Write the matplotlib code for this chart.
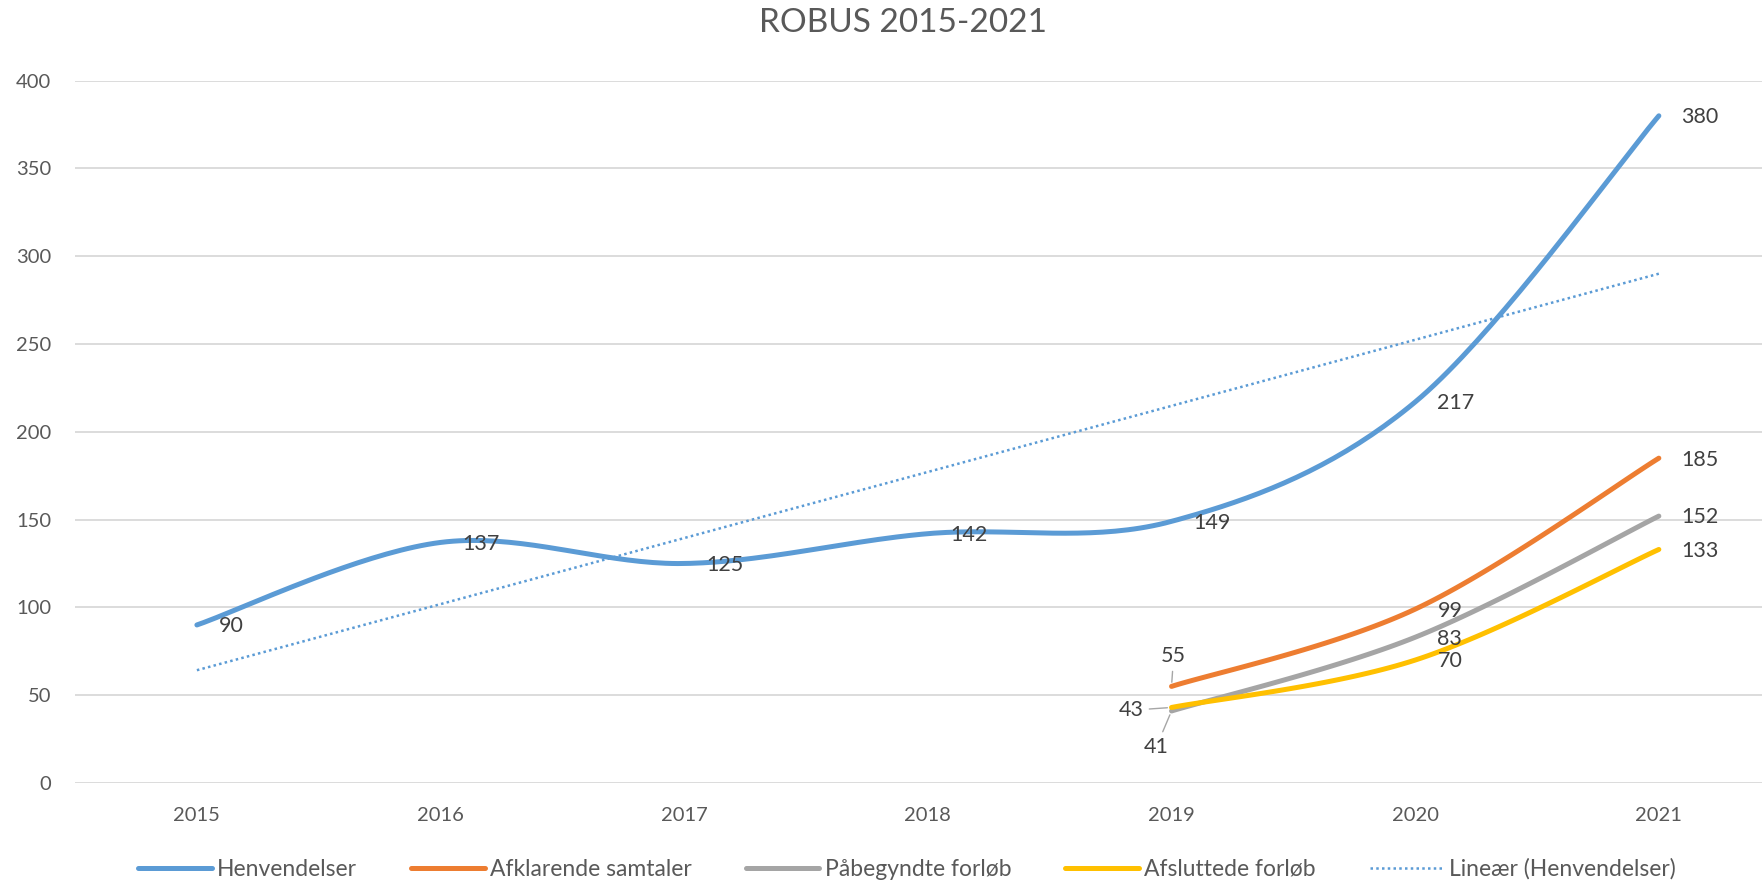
import numpy as np
import matplotlib
matplotlib.use('Agg')
import matplotlib.pyplot as plt

''' --- ROBUS 2015-2021 --- '''
years = ['2015', '2016', '2017', '2018', '2019', '2020', '2021']
henvendelser = [90, 137, 125, 142, 149, 217, 380]
# the three detail series only start in 2019
afklarende = [55, 99, 185]
paabegyndte = [41, 83, 152]
afsluttede = [43, 70, 133]
yticks = [0, 50, 100, 150, 200, 250, 300, 350, 400]

blue = '#5B9BD5'
orange = '#ED7D31'
grey = '#A5A5A5'
yellow = '#FFC000'
txt = '#595959'

plt.rcParams['font.family'] = ['Lato', 'DejaVu Sans']


def smooth(x, y, n=40):
    # excel style smoothed line: bezier segments, control points from neighbours
    x = np.asarray(x, float)
    y = np.asarray(y, float)
    px = np.concatenate([[x[0]], x, [x[-1]]])
    py = np.concatenate([[y[0]], y, [y[-1]]])
    xs, ys = [], []
    t = np.linspace(0, 1, n)
    for i in range(len(x) - 1):
        p0 = np.array([px[i+1], py[i+1]])
        p3 = np.array([px[i+2], py[i+2]])
        p1 = p0 + (p3 - np.array([px[i], py[i]])) / 6
        p2 = p3 - (np.array([px[i+3], py[i+3]]) - p0) / 6
        b = ((1-t)**3)[:, None]*p0 + (3*(1-t)**2*t)[:, None]*p1 \
            + (3*(1-t)*t**2)[:, None]*p2 + (t**3)[:, None]*p3
        xs.append(b[:, 0])
        ys.append(b[:, 1])
    return np.concatenate(xs), np.concatenate(ys)


fig = plt.figure(figsize=(17.62, 8.83), dpi=100)
ax = fig.add_axes([0.0426, 0.1133, 0.968, 0.7953])

x_all = np.arange(len(years))
x_late = x_all[4:]

series = [
    ('Henvendelser', x_all, henvendelser, blue),
    ('Afklarende samtaler', x_late, afklarende, orange),
    ('Påbegyndte forløb', x_late, paabegyndte, grey),
    ('Afsluttede forløb', x_late, afsluttede, yellow),
]
for name, xx, yy, c in series:
    sx, sy = smooth(xx, yy)
    ax.plot(sx, sy, color=c, lw=3.6, solid_capstyle='round', label=name, zorder=3)

# linear trend of Henvendelser
k, m = np.polyfit(x_all, henvendelser, 1)
ax.plot(x_all, k*x_all + m, color=blue, lw=1.8, ls=(0, (1, 1.3)),
        label='Lineær (Henvendelser)', zorder=2)

# data labels, right of the point
fs_lab = 15.5
lab_kw = dict(textcoords='offset points', ha='left', va='center', fontsize=fs_lab, color='#404040')
for xi, v in zip(x_all, henvendelser):
    ax.annotate(str(v), (xi, v), xytext=(16, -1), **lab_kw)
for yy in (afklarende, paabegyndte, afsluttede):
    for xi, v in zip(x_late[1:], yy[1:]):
        ax.annotate(str(v), (xi, v), xytext=(16, -1), **lab_kw)

# 2019 labels moved off the crowded start, with leader lines
lead = dict(arrowstyle='-', color='#A6A6A6', lw=1, shrinkA=2, shrinkB=3)
ax.annotate(str(afklarende[0]), (x_late[0], afklarende[0]), xytext=(1.5, 22),
            textcoords='offset points', ha='center', va='center', fontsize=fs_lab,
            color='#404040', arrowprops=lead)
ax.annotate(str(afsluttede[0]), (x_late[0], afsluttede[0]), xytext=(-29, -2),
            textcoords='offset points', ha='center', va='center', fontsize=fs_lab,
            color='#404040', arrowprops=lead)
ax.annotate(str(paabegyndte[0]), (x_late[0], paabegyndte[0]), xytext=(-11, -26),
            textcoords='offset points', ha='center', va='center', fontsize=fs_lab,
            color='#404040', arrowprops=lead)

ax.set_xlim(-0.5, 6.5)
ax.set_ylim(0, 400)
ax.set_xticks(x_all)
ax.set_xticklabels(years)
ax.set_yticks(yticks)
ax.tick_params(length=0, labelsize=14.5, labelcolor=txt)
ax.tick_params(axis='y', pad=17)
ax.tick_params(axis='x', pad=17)
ax.grid(axis='y', color='#D9D9D9', lw=1.3)
ax.set_axisbelow(True)
for s in ax.spines.values():
    s.set_visible(False)

fig.text(903/1762, 1 - 23/883, 'ROBUS 2015-2021', ha='center', va='center',
         fontsize=24, color=txt)

fig.legend(loc='center', bbox_to_anchor=(907/1762, 1 - 869/883), ncol=5,
           frameon=False, fontsize=16.5, labelcolor=txt, handlelength=3.2,
           handletextpad=0.25, columnspacing=2.35)

fig.savefig('out.png', dpi=100)
